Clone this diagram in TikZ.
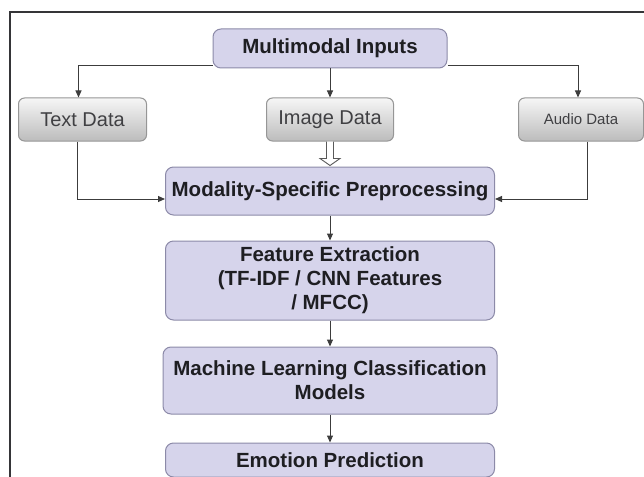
\documentclass[tikz,border=0pt]{standalone}
\usepackage{fontspec}
\setmainfont{Liberation Sans}
\usetikzlibrary{arrows.meta, positioning}
\definecolor{stagefill}{RGB}{214, 212, 235}
\definecolor{stageborder}{RGB}{140, 138, 168}
\definecolor{datatop}{RGB}{246, 246, 246}
\definecolor{databot}{RGB}{188, 188, 188}
\definecolor{databorder}{RGB}{150, 150, 150}
\definecolor{inkdark}{RGB}{30, 30, 34}
\definecolor{wiregray}{RGB}{60, 60, 60}
\tikzset{
  stage/.style={draw=stageborder, fill=stagefill, rounded corners=8pt, align=center,
    font=\fontsize{20.5}{24}\selectfont\bfseries, text=inkdark, line width=1pt,
    minimum width=329pt, inner sep=2pt},
  databox/.style={draw=databorder, top color=datatop, bottom color=databot, rounded corners=6pt,
    align=center, font=\fontsize{20}{24}\selectfont, text=inkdark!85, line width=1pt,
    minimum height=43pt, inner sep=2pt},
  arr/.style={-{Triangle[length=7pt, width=6pt]}, line width=1pt, wiregray},
  blockarr/.style={draw=wiregray!85, fill=white, line width=0.9pt, line join=miter}
}
\begin{document}
\begin{tikzpicture}[x=1pt, y=1pt]
  \useasboundingbox (0,0) rectangle (644,-476);
  % outer frame, cut by the page edge
  \draw[line width=1.5pt, inkdark!90] (10,-490) -- (10,-12) -- (660,-12);

  \node[stage, minimum width=234pt, minimum height=39pt] (inp) at (330,-48.5) {Multimodal Inputs};
  \node[databox, minimum width=127pt, below=29pt of inp] (img) {Image Data};
  \node[databox, minimum width=128pt, left=119pt of img] (txt) {Text Data};
  \node[databox, minimum width=125pt, right=124pt of img, font=\fontsize{15}{18}\selectfont] (aud) {Audio Data};

  \node[stage, minimum height=48pt, below=25pt of img] (mod) {Modality-Specific Preprocessing};
  \node[stage, minimum height=79pt, below=25pt of mod] (feat) {Feature Extraction\\(TF-IDF / CNN Features\\/ MFCC)};
  \node[stage, minimum width=334pt, minimum height=67pt, below=26pt of feat] (ml) {Machine Learning Classification\\Models};
  \node[stage, minimum height=34pt, below=28pt of ml] (emo) {Emotion Prediction};

  \draw[arr] ([yshift=3pt]inp.south west) -| ([xshift=-4pt]txt.north);
  \draw[arr] (inp) -- (img);
  \draw[arr] ([yshift=3pt]inp.south east) -| ([xshift=-3pt]aud.north);

  \draw[arr] ([xshift=-5pt]txt.south) |- ([yshift=-8pt]mod.west);
  % hollow block arrow from image data
  \draw[blockarr] ([xshift=-3.5pt]img.south) -- ([xshift=-3.5pt, yshift=8pt]mod.north)
    -- ([xshift=-10pt, yshift=8pt]mod.north) -- ([yshift=1pt]mod.north)
    -- ([xshift=10pt, yshift=8pt]mod.north) -- ([xshift=3.5pt, yshift=8pt]mod.north)
    -- ([xshift=3.5pt]img.south);
  \draw[arr] ([xshift=6pt]aud.south) |- ([yshift=-8pt]mod.east);

  \draw[arr] (mod) -- (feat);
  \draw[arr] (feat) -- (ml);
  \draw[arr] (ml) -- (emo);
\end{tikzpicture}
\end{document}
